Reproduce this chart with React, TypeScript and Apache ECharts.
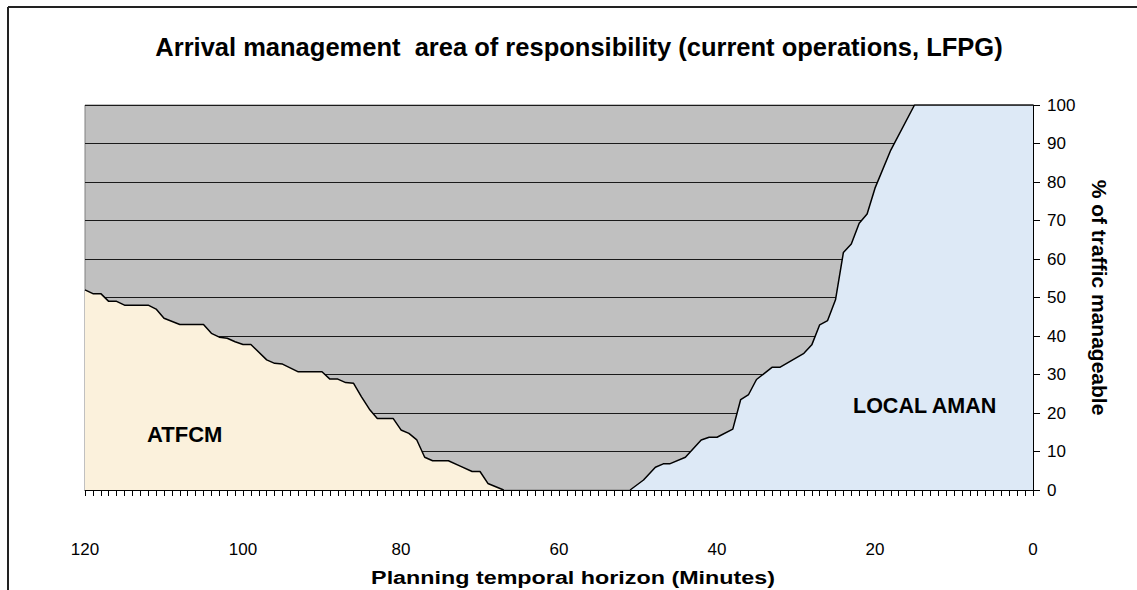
import React, { useEffect, useRef } from "react";
import * as echarts from "echarts";

const xTickValues = [0, 20, 40, 60, 80, 100, 120];
const yTickValues = [0, 10, 20, 30, 40, 50, 60, 70, 80, 90, 100];

const atfcmMinutes = [120, 119, 118, 117, 116, 115, 112, 111, 110, 108, 105, 104, 103, 102, 101, 100, 99, 97, 96, 95, 93, 90, 89, 88, 87, 86, 85, 84, 83, 81, 80, 79, 78, 77, 76, 74, 72.5, 71, 70, 69, 67];
const atfcmValues = [52, 51, 51, 49, 49, 48, 48, 47, 44.6, 43, 43, 40.7, 39.7, 39.4, 38.5, 37.8, 37.8, 33.8, 32.9, 32.7, 30.7, 30.7, 28.8, 28.8, 27.9, 27.7, 24.2, 21, 18.6, 18.6, 15.6, 14.7, 13, 8.5, 7.6, 7.6, 6.2, 4.8, 4.8, 1.7, 0];

const amanMinutes = [51, 49.3, 47.8, 46.8, 46, 44, 42, 41, 40, 38, 37, 36, 35, 33, 32, 29, 28, 27, 26, 25, 24, 23, 22, 21, 20, 18, 15, 0];
const amanValues = [0, 2.6, 5.9, 6.8, 6.8, 8.5, 13, 13.7, 13.7, 15.8, 23.5, 24.8, 28.7, 31.9, 31.9, 35.5, 37.7, 42.9, 44, 49.4, 61.7, 63.9, 69.3, 71.7, 78.4, 88.3, 100, 100];

const FONT = "'Liberation Sans', Arial, Helvetica, sans-serif";

export default function App() {
  const ref = useRef<HTMLDivElement>(null);
  useEffect(() => {
    if (!ref.current) return;
    const chart = echarts.init(ref.current, undefined, { renderer: "svg" });
    const atfcm = atfcmMinutes.map((m, i) => [m, atfcmValues[i]]);
    const aman = amanMinutes.map((m, i) => [m, amanValues[i]]);
    chart.setOption({
      animation: false,
      backgroundColor: "#ffffff",
      textStyle: { fontFamily: FONT },
      title: {
        text: "Arrival management  area of responsibility (current operations, LFPG)",
        left: 574,
        textAlign: "center",
        top: 29,
        textStyle: { fontSize: 25.5, fontWeight: "bold", color: "#000", fontFamily: FONT },
      },
      grid: {
        left: 85,
        right: 104,
        top: 105,
        bottom: 100,
        containLabel: false,
        outerBoundsMode: "none",
        show: true,
        backgroundColor: "#C0C0C0",
        borderColor: "#808080",
        borderWidth: 1,
      },
      xAxis: {
        type: "value",
        inverse: true,
        min: xTickValues[0],
        max: xTickValues[xTickValues.length - 1],
        interval: 20,
        axisLine: { show: true, lineStyle: { color: "#000", width: 1 } },
        axisTick: { show: true, length: 6, lineStyle: { color: "#000" } },
        minorTick: { show: true, splitNumber: 20, length: 6, lineStyle: { color: "#000" } },
        splitLine: { show: false },
        axisLabel: { fontSize: 17, color: "#000", margin: 51, fontFamily: FONT },
      },
      yAxis: {
        type: "value",
        position: "right",
        min: yTickValues[0],
        max: yTickValues[yTickValues.length - 1],
        interval: 10,
        name: "% of traffic manageable",
        nameLocation: "middle",
        nameRotate: -90,
        nameGap: 56,
        nameTextStyle: { fontSize: 21, fontWeight: "bold", color: "#000", fontFamily: FONT },
        axisLine: { show: true, lineStyle: { color: "#000", width: 1 } },
        axisTick: { show: true, length: 7, lineStyle: { color: "#000" } },
        splitLine: { show: true, lineStyle: { color: "#1a1a1a", width: 1 } },
        axisLabel: { fontSize: 17, color: "#000", margin: 14, fontFamily: FONT },
      },
      series: [
        {
          name: "ATFCM",
          type: "line",
          data: atfcm,
          symbol: "none",
          lineStyle: { color: "#000", width: 1.5 },
          areaStyle: { color: "#FBF1DC", opacity: 1 },
          z: 3,
        },
        {
          name: "LOCAL AMAN",
          type: "line",
          data: aman,
          symbol: "none",
          lineStyle: { color: "#000", width: 1.5 },
          areaStyle: { color: "#DDE9F6", opacity: 1 },
          z: 3,
        },
      ],
      graphic: [
        {
          type: "text",
          x: 573,
          y: 577,
          scaleX: 1.26,
          style: {
            text: "Planning temporal horizon (Minutes)",
            fontSize: 18.5,
            fontWeight: "bold",
            fill: "#000",
            fontFamily: FONT,
            align: "center",
            verticalAlign: "middle",
          },
          z: 10,
        },
        {
          type: "text",
          left: 147,
          top: 423,
          style: { text: "ATFCM", fontSize: 22, fontWeight: "bold", fill: "#000", fontFamily: FONT },
          z: 10,
        },
        {
          type: "text",
          left: 853,
          top: 395,
          style: { text: "LOCAL AMAN", fontSize: 21.5, fontWeight: "bold", fill: "#000", fontFamily: FONT },
          z: 10,
        },
        {
          type: "line",
          shape: { x1: 8, y1: 7, x2: 1137, y2: 7 },
          style: { stroke: "#222", lineWidth: 2 },
        },
        {
          type: "line",
          shape: { x1: 8, y1: 7, x2: 8, y2: 590 },
          style: { stroke: "#222", lineWidth: 2 },
        },
      ],
    });
    return () => chart.dispose();
  }, []);
  return (
    <div
      ref={ref}
      style={{ position: "fixed", left: 0, top: 0, width: 1137, height: 590 }}
    />
  );
}
